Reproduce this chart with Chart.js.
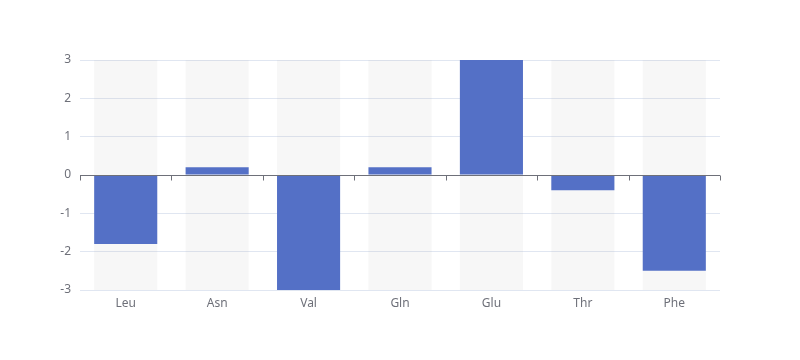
<!DOCTYPE html>
<html><head><meta charset="utf-8">
<script src="https://cdn.jsdelivr.net/npm/chart.js@4/dist/chart.umd.min.js"></script>
<style>html,body{margin:0;padding:0;background:#fff}#wrap{width:800px;height:360px}</style>
</head><body><div id="wrap"><canvas id="c" width="800" height="360"></canvas></div>
<script>
const categories = ['Leu','Asn','Val','Gln','Glu','Thr','Phe'];
const values = [-1.8, 0.2, -3, 0.2, 3, -0.4, -2.5];
const yMin = -3, yMax = 3;
const yTicks = [-3,-2,-1,0,1,2,3];

const zeroAxis = {
  id: 'zeroAxis',
  afterDatasetsDraw(chart) {
    const {ctx, chartArea, scales} = chart;
    const y0 = Math.round(scales.y.getPixelForValue(0)) + 0.5;
    ctx.save();
    ctx.strokeStyle = '#6e7079';
    ctx.lineWidth = 1;
    ctx.beginPath();
    ctx.moveTo(chartArea.left, y0);
    ctx.lineTo(chartArea.right, y0);
    const n = categories.length;
    const w = (chartArea.right - chartArea.left) / n;
    for (let i = 0; i <= n; i++) {
      const x = Math.round(chartArea.left + i * w) + 0.5;
      ctx.moveTo(x, y0);
      ctx.lineTo(x, y0 + 5);
    }
    ctx.stroke();
    ctx.restore();
  }
};

new Chart(document.getElementById('c'), {
  type: 'bar',
  data: {
    labels: categories,
    datasets: [
      {
        data: values,
        backgroundColor: '#5470c6',
        borderWidth: 0,
        order: 1,
        grouped: false,
        categoryPercentage: 1,
        barPercentage: 0.69
      },
      {
        data: categories.map(() => [yMin, yMax]),
        backgroundColor: 'rgba(180,180,180,0.1)',
        borderWidth: 0,
        order: 2,
        grouped: false,
        categoryPercentage: 1,
        barPercentage: 0.69
      }
    ]
  },
  plugins: [zeroAxis],
  options: {
    responsive: false,
    animation: false,
    layout: { padding: { left: 0, right: 80, top: 60, bottom: 0 } },
    plugins: { legend: { display: false }, tooltip: { enabled: false } },
    scales: {
      x: {
        grid: { display: false },
        border: { display: false },
        ticks: { color: '#6e7079', font: { size: 12, family: 'Noto Sans, sans-serif' }, padding: -2 },
        afterFit(s) { s.height = 70; }
      },
      y: {
        min: yMin, max: yMax,
        afterBuildTicks(s) { s.ticks = yTicks.map(v => ({ value: v })); },
        grid: { color: '#e0e6f1', drawTicks: false },
        border: { display: false },
        ticks: { color: '#6e7079', font: { size: 12, family: 'Noto Sans, sans-serif' }, padding: 9 },
        afterFit(s) { s.width = 80; }
      }
    }
  }
});
</script></body></html>
